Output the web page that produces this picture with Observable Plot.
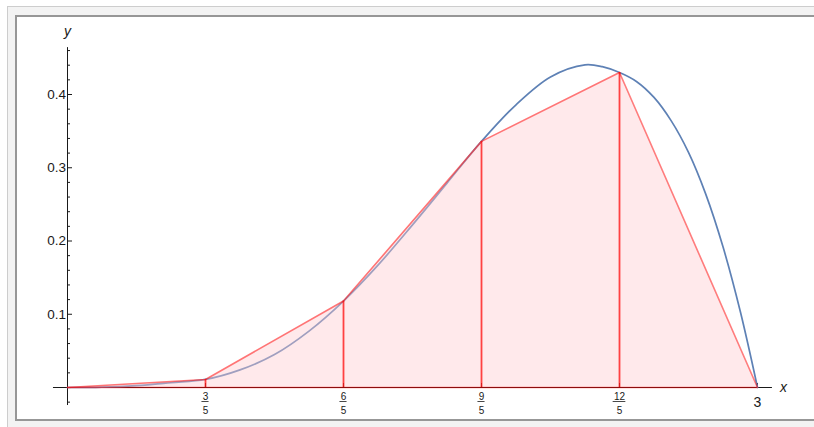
<!DOCTYPE html>
<html><head><meta charset="utf-8">
<script src="https://cdn.jsdelivr.net/npm/d3@7"></script>
<script src="https://cdn.jsdelivr.net/npm/@observablehq/plot@0.6"></script>
<style>
html,body{margin:0;padding:0;background:#fff;overflow:hidden;}
#wrap{position:relative;width:814px;height:427px;overflow:hidden;}
#outer{position:absolute;left:7px;top:6px;width:900px;height:500px;border:1px solid #cdcdcd;background:#f3f3f3;}
#inner{position:absolute;left:15px;top:15px;width:900px;height:402px;border-left:2px solid #979797;border-top:2px solid #979797;border-bottom:2px solid #979797;background:#fff;}
#chart{position:absolute;left:0;top:0;}
</style></head><body>
<div id="wrap"><div id="outer"></div><div id="inner"></div><div id="chart"></div></div>
<script>
// smooth function f(x)
const curveX = [0, 0.15, 0.3, 0.45, 0.6, 0.75, 0.9, 1.05, 1.2, 1.35, 1.5, 1.65, 1.8, 1.95, 2.1, 2.25, 2.325, 2.4, 2.475, 2.55, 2.625, 2.7, 2.775, 2.85, 2.925, 3];
const curveY = [0, 0.0004, 0.0025, 0.0065, 0.011, 0.024, 0.045, 0.077, 0.118, 0.167, 0.222, 0.279, 0.336, 0.386, 0.424, 0.4405, 0.438, 0.430, 0.4175, 0.396, 0.364, 0.321, 0.264, 0.192, 0.104, 0];
// trapezoid nodes
const nodeX = [0, 0.6, 1.2, 1.8, 2.4, 3];
const nodeY = [0, 0.011, 0.118, 0.336, 0.430, 0];
// ticks
const yMajor = [0.1, 0.2, 0.3, 0.4];
const yMinor = [-0.02, 0.02, 0.04, 0.06, 0.08, 0.12, 0.14, 0.16, 0.18, 0.22, 0.24, 0.26, 0.28, 0.32, 0.34, 0.36, 0.38, 0.42, 0.44, 0.46];
const xFracVals = [0.6, 1.2, 1.8, 2.4];
const xFracNum = ["3", "6", "9", "12"];
const xFracDen = ["5", "5", "5", "5"];
const xIntVals = [3];
const xIntLabels = ["3"];
const xAxisExtent = [-0.061, 3.065];
const yAxisExtent = [-0.0246, 0.464];

const curve = curveX.map((x, i) => ({x, y: curveY[i]}));
const nodes = nodeX.map((x, i) => ({x, y: nodeY[i]}));
const fracs = xFracVals.map((v, i) => ({v, num: xFracNum[i], den: xFracDen[i]}));

const W = 814, H = 427, mL = 67, mR = 57, mT = 94, mB = 40;
const fw = W - mL - mR, fh = H - mT - mB;
const unitPx = fw / 3;
const ink = "#1a1a1a";
const font = "'Liberation Sans', Arial, sans-serif";
const hw = d => (d.num.length * 5.6 + 1.5) / 2 / unitPx;

const chart = Plot.plot({
  width: W, height: H,
  marginLeft: mL, marginRight: mR, marginTop: mT, marginBottom: mB,
  x: {domain: [0, 3], axis: null},
  y: {domain: [0, 0.4], axis: null},
  style: {background: "transparent", fontFamily: font, overflow: "visible"},
  marks: [
    Plot.ruleX([0], {y1: yAxisExtent[0], y2: yAxisExtent[1], stroke: ink}),
    Plot.tickY(yMinor, {y: d => d, insetRight: fw - 3, stroke: ink}),
    Plot.tickY(yMajor, {y: d => d, insetRight: fw - 5, stroke: ink}),
    Plot.ruleY([0], {x1: xAxisExtent[0], x2: xAxisExtent[1], stroke: ink}),
    Plot.tickX(xFracVals.concat(xIntVals), {x: d => d, insetTop: fh - 4, stroke: ink}),
    Plot.line(curve, {x: "x", y: "y", stroke: "#5E81B5", strokeWidth: 1.7, curve: "catmull-rom"}),
    Plot.areaY(nodes, {x: "x", y: "y", fill: "rgb(255,201,206)", fillOpacity: 0.41}),
    Plot.line(nodes, {x: "x", y: "y", stroke: "#ff0000", strokeOpacity: 0.5, strokeWidth: 1.6}),
    Plot.ruleY([0], {x1: nodeX[0], x2: nodeX[nodeX.length - 1], stroke: "#ff0000", strokeOpacity: 0.5, strokeWidth: 1.5}),
    Plot.ruleX(nodes.filter(d => d.y > 0), {x: "x", y1: 0, y2: "y", stroke: "#ff0000", strokeOpacity: 0.72, strokeWidth: 1.8}),
    Plot.text(yMajor, {x: 0, y: d => d, text: d => d.toFixed(1), textAnchor: "end", dx: -1.5, fontSize: 13.5, fill: ink}),
    Plot.text(fracs, {x: "v", y: 0, text: "num", dy: 9, fontSize: 10, fill: ink}),
    Plot.ruleY(fracs, {y: 0, x1: d => d.v - hw(d), x2: d => d.v + hw(d), dy: 14, stroke: ink, strokeWidth: 0.8}),
    Plot.text(fracs, {x: "v", y: 0, text: "den", dy: 23, fontSize: 10, fill: ink}),
    Plot.text(xIntVals, {x: d => d, y: 0, text: (d, i) => xIntLabels[i], dy: 15, fontSize: 14, fill: ink}),
    Plot.text(["x"], {x: xAxisExtent[1], y: 0, text: d => d, dx: 11, fontSize: 14, fontStyle: "italic", fill: ink}),
    Plot.text(["y"], {x: 0, y: yAxisExtent[1], text: d => d, dy: -16, fontSize: 14, fontStyle: "italic", fill: ink})
  ]
});
document.getElementById("chart").appendChild(chart);
</script>
</body></html>
